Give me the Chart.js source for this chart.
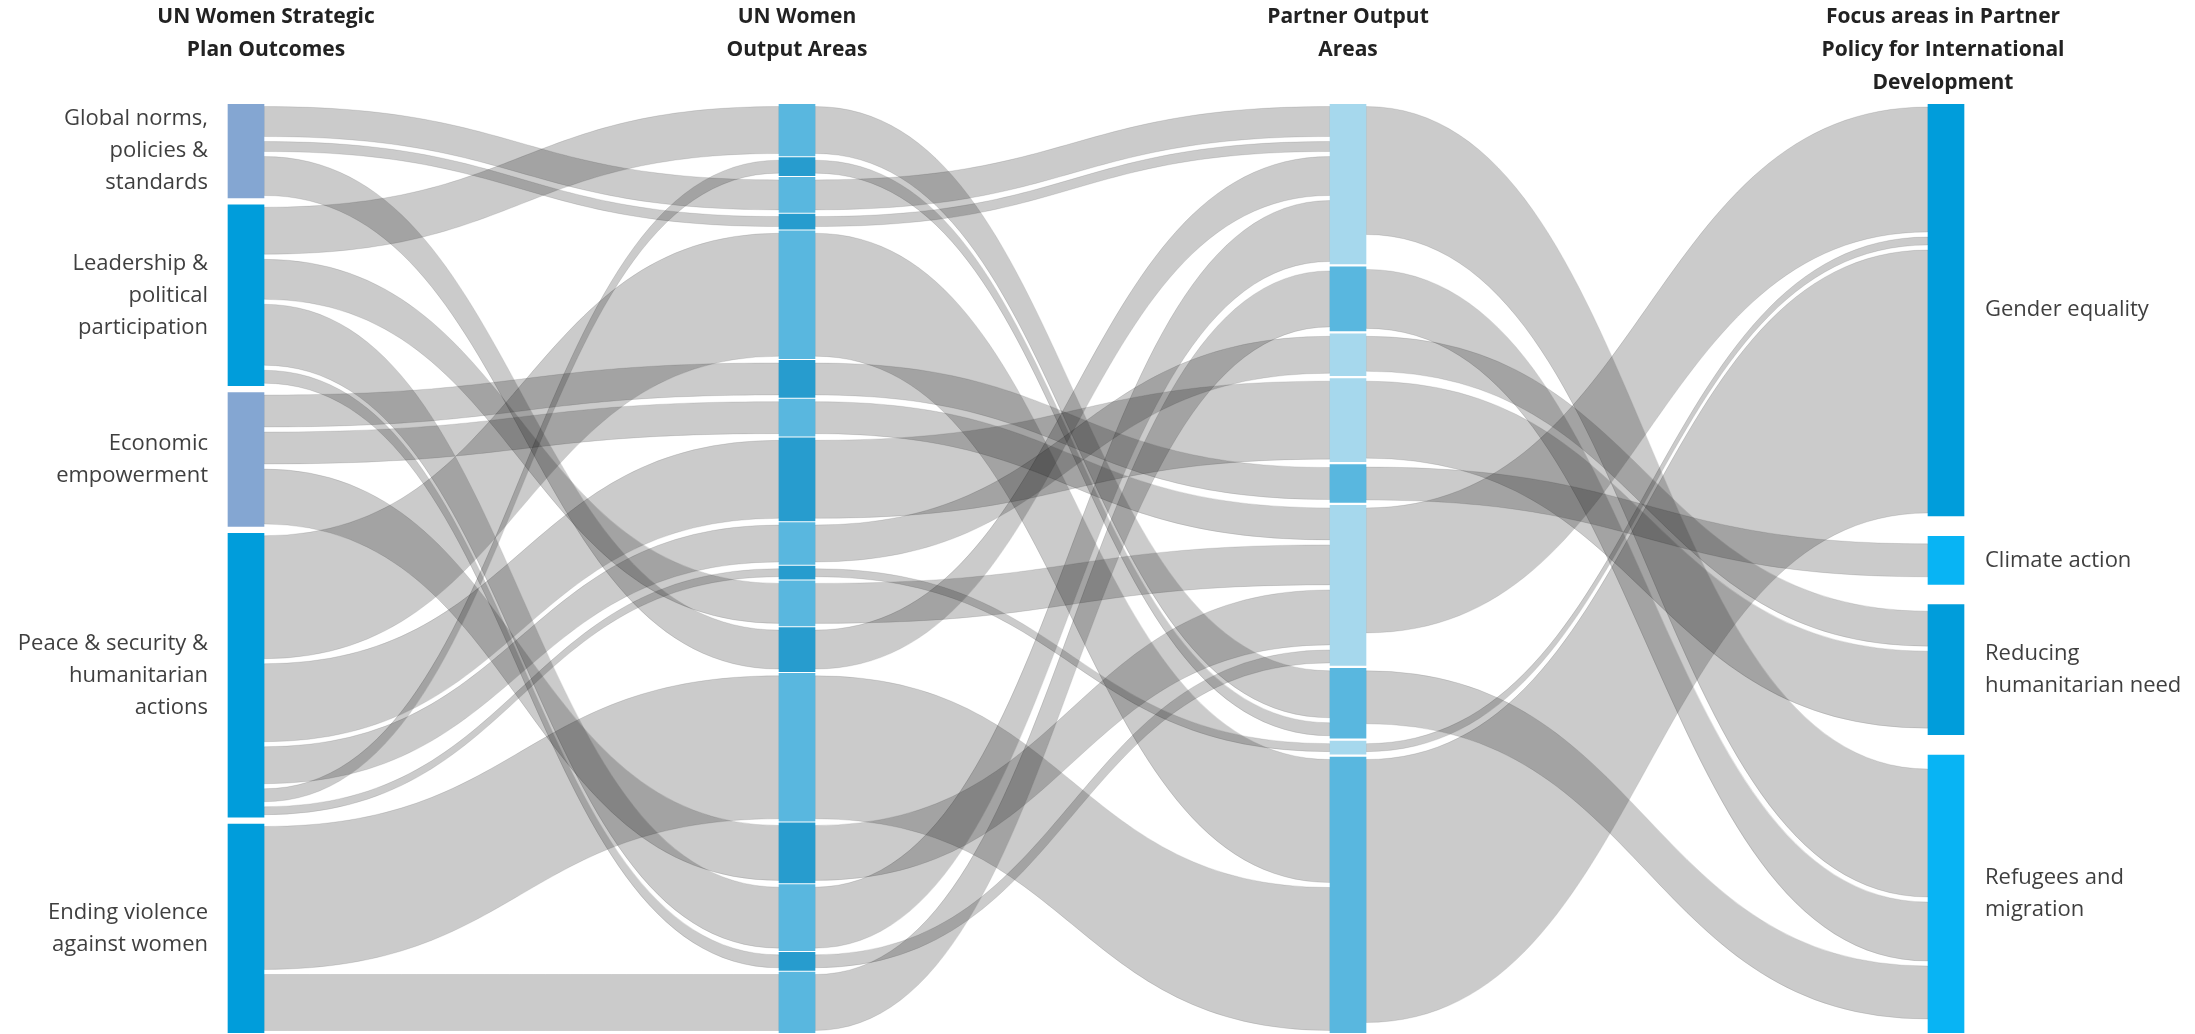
<!DOCTYPE html>
<html>
<head>
<meta charset="utf-8">
<script src="https://cdn.jsdelivr.net/npm/chart.js@4.4.1/dist/chart.umd.min.js"></script>
<style>
  html, body { margin: 0; padding: 0; background: #ffffff; }
  #wrap { width: 2195px; height: 1034px; position: relative; }
</style>
</head>
<body>
<div id="wrap"><canvas id="myChart"></canvas></div>
<script>
// ---- data ----
const outcomes = [
    ["Global norms,", "policies &", "standards"],
    ["Leadership &", "political", "participation"],
    ["Economic", "empowerment"],
    ["Peace & security &", "humanitarian", "actions"],
    ["Ending violence", "against women"]
];
const outputAreas = ["O1", "O2", "O3", "O4", "O5", "O6", "O7", "O8", "O9",
    "O10", "O11", "O12", "O13", "O14", "O15", "O16", "O17"];
const partnerAreas = ["P1", "P2", "P3", "P4", "P5", "P6", "P7", "P8", "P9"];
const focusAreas = [
    ["Gender equality"],
    ["Climate action"],
    ["Reducing", "humanitarian need"],
    ["Refugees and", "migration"]
];
const focusTotals = [412, 48, 130, 278];

// [from, to, value] - listed in the order they leave each source node
const outcomeToOutput = [
    [0, 2, 35], [0, 3, 15], [0, 11, 44],
    [1, 0, 52], [1, 10, 45], [1, 14, 66], [1, 15, 18],
    [2, 5, 37], [2, 6, 37], [2, 13, 60],
    [3, 4, 128], [3, 7, 83], [3, 8, 42], [3, 1, 18], [3, 9, 13],
    [4, 12, 148], [4, 16, 61]
];
const outputToPartner = [
    [0, 6, 52], [1, 6, 18], [2, 0, 35], [3, 0, 15], [4, 8, 128], [5, 4, 37],
    [6, 5, 37], [7, 3, 83], [8, 2, 42], [9, 7, 13], [10, 5, 45], [11, 0, 44],
    [12, 8, 148], [13, 5, 60], [14, 0, 66], [15, 5, 18], [16, 1, 61]
];
const partnerToFocus = [
    [0, 3, 133], [1, 3, 64], [2, 2, 40], [3, 2, 82], [4, 1, 38],
    [5, 0, 130], [6, 3, 58], [7, 0, 13], [8, 0, 268]
];

const titles = [
    ["UN Women Strategic", "Plan Outcomes"],
    ["UN Women", "Output Areas"],
    ["Partner Output", "Areas"],
    ["Focus areas in Partner", "Policy for International", "Development"]
];

// ---- layout / style ----
const SPAN = 929;
const COLUMN_X = [246, 797, 1348, 1946];
const TITLE_X = [266, 797, 1348, 1943];
const NODE_W = 36;
const INSET = 2.5;
const LINK_FILL = "rgba(30, 30, 30, 0.23)";
const LINK_EDGE = "rgba(0, 0, 0, 0.10)";
const LABEL_FONT = '22px "Open Sans"';
const TITLE_FONT = 'bold 21px "Open Sans"';
const LINE_H = 32;

const blueA = "#84a6d2", blueB = "#009ddb";
const lightB = "#59b7df", darkB = "#279cce";
const lightC = "#a6d8ed", midC = "#59b7df";
const cyanD = "#08b4f4";
const nodeColors = [
    [blueA, blueB, blueA, blueB, blueB],
    outputAreas.map((o, i) => (i % 2 === 0 ? lightB : darkB)),
    [lightC, midC, lightC, lightC, midC, lightC, midC, lightC, midC],
    [blueB, cyanD, blueB, cyanD]
];

const columns = [outcomes, outputAreas, partnerAreas, focusAreas];
const linkSets = [outcomeToOutput, outputToPartner, partnerToFocus];

// node sizes = larger of in / out flow, stacked per column
const buildNodes = () => {
    const inSum = columns.map(c => new Array(c.length).fill(0));
    const outSum = columns.map(c => new Array(c.length).fill(0));
    linkSets.forEach((set, s) => set.forEach(([f, t, v]) => {
        outSum[s][f] += v;
        inSum[s + 1][t] += v;
    }));
    return columns.map((col, c) => {
        const vals = col.map((_, i) => Math.max(inSum[c][i], outSum[c][i], c === 3 ? focusTotals[i] : 0));
        const total = vals.reduce((a, b) => a + b, 0);
        const pad = (SPAN - total) / (col.length - 1);
        let y = 0;
        return vals.map((v, i) => {
            const node = { y0: y, y1: y + v, value: v, inSum: inSum[c][i] };
            y += v + pad;
            return node;
        });
    });
};

const nodes = buildNodes();

const buildLinks = () => {
    const links = [];
    linkSets.forEach((set, s) => {
        const srcOff = nodes[s].map(n => n.y0);
        const group = {};
        set.forEach(([f, t, v]) => {
            const l = { s, f, t, v, sy: srcOff[f], ty: 0 };
            srcOff[f] += v;
            links.push(l);
            (group[t] = group[t] || []).push(l);
        });
        // incoming links sorted by source position, centred on the target
        Object.keys(group).forEach(t => {
            const node = nodes[s + 1][t];
            let y = node.y0 + (node.value - node.inSum) / 2;
            group[t].sort((a, b) => nodes[s][a.f].y0 - nodes[s][b.f].y0).forEach(l => {
                l.ty = y;
                y += l.v;
            });
        });
    });
    return links;
};

const links = buildLinks();

const nodeData = [];
const nodeFill = [];
nodes.forEach((col, c) => col.forEach((n, i) => {
    nodeData.push({ x: COLUMN_X[c], y: [n.y0, n.y1] });
    nodeFill.push(nodeColors[c][i]);
}));

const sankeyLinks = {
    id: "sankeyLinks",
    beforeDatasetsDraw(chart) {
        const { ctx, scales: { x, y } } = chart;
        ctx.save();
        links.forEach(l => {
            const x0 = x.getPixelForValue(COLUMN_X[l.s]) + NODE_W / 2;
            const x1 = x.getPixelForValue(COLUMN_X[l.s + 1]) - NODE_W / 2;
            const xm = (x0 + x1) / 2;
            const w = y.getPixelForValue(l.sy + l.v) - y.getPixelForValue(l.sy);
            const ins = Math.max(0.5, Math.min(INSET, (w - 3) / 2));
            const a0 = y.getPixelForValue(l.sy) + ins, a1 = y.getPixelForValue(l.sy + l.v) - ins;
            const b0 = y.getPixelForValue(l.ty) + ins, b1 = y.getPixelForValue(l.ty + l.v) - ins;
            ctx.beginPath();
            ctx.moveTo(x0, a0);
            ctx.bezierCurveTo(xm, a0, xm, b0, x1, b0);
            ctx.lineTo(x1, b1);
            ctx.bezierCurveTo(xm, b1, xm, a1, x0, a1);
            ctx.closePath();
            ctx.fillStyle = LINK_FILL;
            ctx.fill();
            ctx.strokeStyle = LINK_EDGE;
            ctx.lineWidth = 1;
            ctx.stroke();
        });
        ctx.restore();
    }
};

const sankeyText = {
    id: "sankeyText",
    afterDraw(chart) {
        const { ctx, scales: { x, y } } = chart;
        ctx.save();
        ctx.textBaseline = "middle";

        // column titles
        ctx.font = TITLE_FONT;
        ctx.fillStyle = "#222222";
        ctx.textAlign = "center";
        titles.forEach((lines, c) => {
            lines.forEach((t, k) => ctx.fillText(t, x.getPixelForValue(TITLE_X[c]), 17 + k * 33));
        });

        // node labels, first and last column
        ctx.font = LABEL_FONT;
        ctx.fillStyle = "#3f3f3f";
        [[0, "right", -NODE_W / 2 - 20], [3, "left", NODE_W / 2 + 21]].forEach(([c, align, dx]) => {
            ctx.textAlign = align;
            columns[c].forEach((lines, i) => {
                const n = nodes[c][i];
                const cy = (y.getPixelForValue(n.y0) + y.getPixelForValue(n.y1)) / 2;
                const top = cy - (lines.length - 1) * LINE_H / 2;
                lines.forEach((t, k) => ctx.fillText(t, x.getPixelForValue(COLUMN_X[c]) + dx, top + k * LINE_H));
            });
        });
        ctx.restore();
    }
};

const ctx = document.getElementById("myChart").getContext("2d");
const myChart = new Chart(ctx, {
    type: "bar",
    data: {
        datasets: [{
            data: nodeData,
            backgroundColor: nodeFill,
            borderWidth: 0,
            barThickness: NODE_W
        }]
    },
    options: {
        responsive: true,
        maintainAspectRatio: false,
        animation: false,
        layout: { padding: { top: 104, bottom: 1, left: 0, right: 0 } },
        scales: {
            x: { type: "linear", min: 0, max: 2195, offset: false, display: false },
            y: { min: 0, max: SPAN, reverse: true, display: false }
        },
        plugins: {
            legend: { display: false },
            tooltip: { enabled: false }
        }
    },
    plugins: [sankeyLinks, sankeyText]
});
</script>
</body>
</html>
